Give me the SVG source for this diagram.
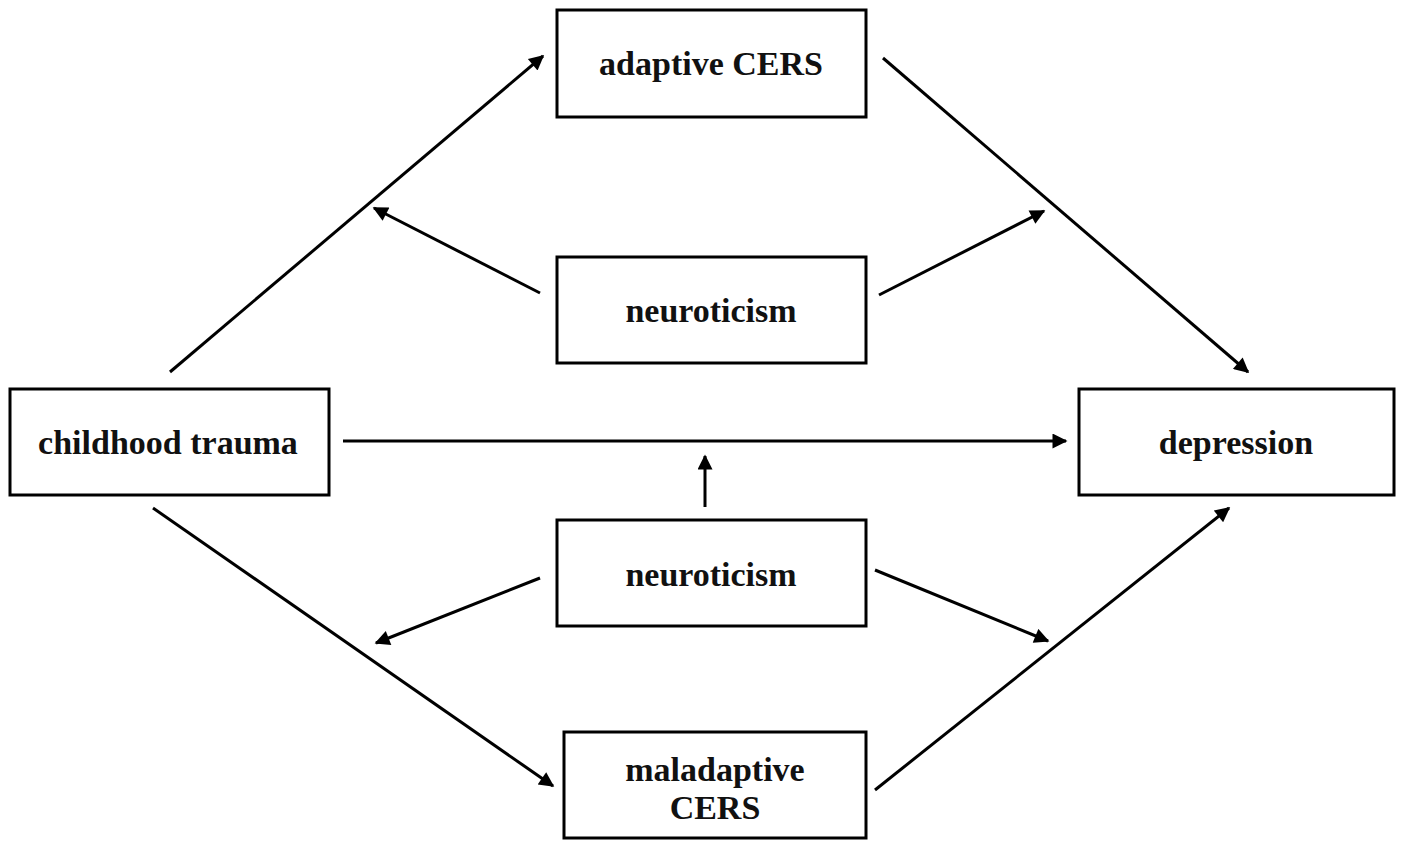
<svg xmlns="http://www.w3.org/2000/svg" width="1401" height="841" viewBox="0 0 1401 841">
<style>
.box{fill:#fff;stroke:#000;stroke-width:3}
.lbl{font-family:"Liberation Serif","Times New Roman",serif;font-weight:bold;font-size:34px;fill:#111;text-anchor:middle}
.c{stroke:#000;stroke-width:3;fill:none;marker-end:url(#ah)}
</style>
<defs>
<marker id="ah" viewBox="0 0 10 10" refX="9" refY="5" markerWidth="6" markerHeight="5" orient="auto" markerUnits="strokeWidth">
<path d="M0,0 L10,5 L0,10 Z" fill="#000"/>
</marker>
</defs>
<rect width="1401" height="841" fill="#fff"/>
<g id="connectors">
<line class="c" x1="170" y1="372" x2="543" y2="56"/>
<line class="c" x1="883" y1="58" x2="1248" y2="372"/>
<line class="c" x1="540" y1="293" x2="374" y2="208"/>
<line class="c" x1="879" y1="295" x2="1044" y2="211"/>
<line class="c" x1="343" y1="441" x2="1066" y2="441"/>
<line class="c" x1="705" y1="507" x2="705" y2="456"/>
<line class="c" x1="540" y1="578" x2="376" y2="643"/>
<line class="c" x1="875" y1="570" x2="1048" y2="641"/>
<line class="c" x1="153" y1="508" x2="553" y2="786"/>
<line class="c" x1="875" y1="790" x2="1229" y2="508"/>
</g>
<g id="adaptive">
<rect class="box" x="557" y="10" width="309" height="107"/>
<text class="lbl" x="711" y="75">adaptive CERS</text>
</g>
<g id="neuro-top">
<rect class="box" x="557" y="257" width="309" height="106"/>
<text class="lbl" x="711" y="322">neuroticism</text>
</g>
<g id="childhood">
<rect class="box" x="10" y="389" width="319" height="106"/>
<text class="lbl" x="168" y="454">childhood trauma</text>
</g>
<g id="depression">
<rect class="box" x="1079" y="389" width="315" height="106"/>
<text class="lbl" x="1236" y="454">depression</text>
</g>
<g id="neuro-bottom">
<rect class="box" x="557" y="520" width="309" height="106"/>
<text class="lbl" x="711" y="586">neuroticism</text>
</g>
<g id="maladaptive">
<rect class="box" x="564" y="732" width="302" height="106"/>
<text class="lbl" x="715" y="781">maladaptive</text>
<text class="lbl" x="715" y="819">CERS</text>
</g>
</svg>
